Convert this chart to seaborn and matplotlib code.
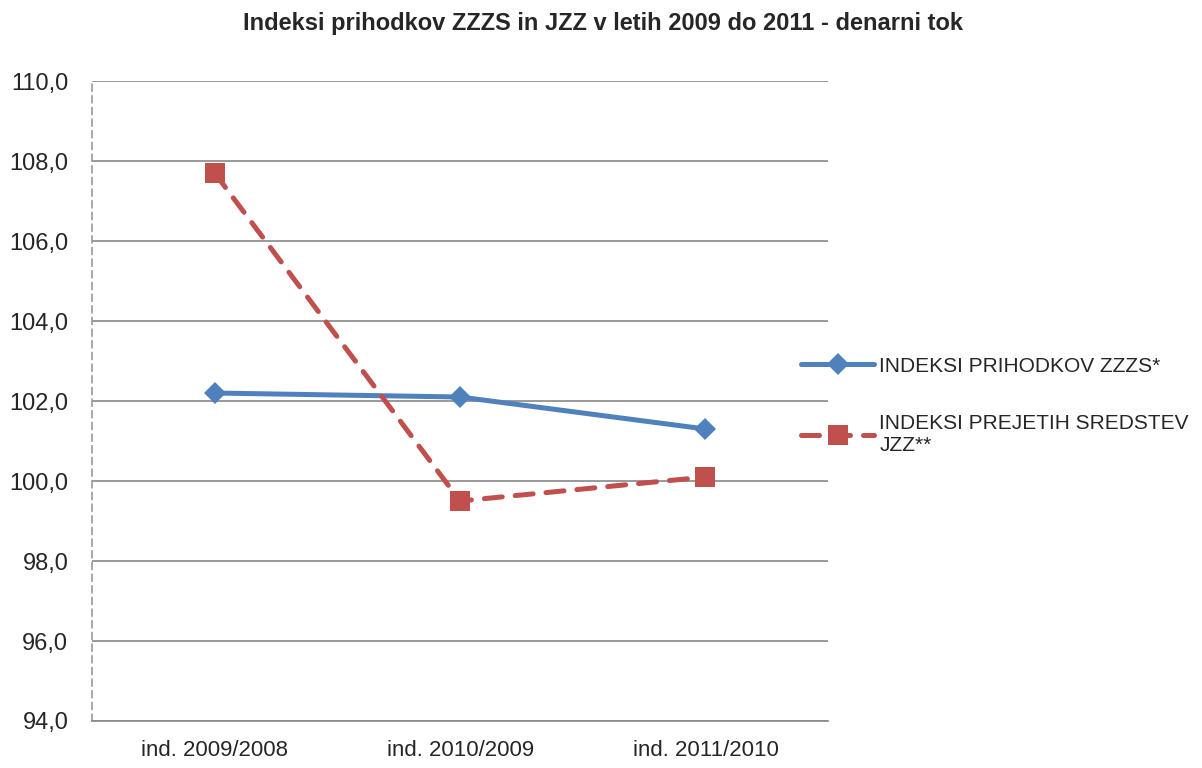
import numpy as np
import pandas as pd
import matplotlib.pyplot as plt
import seaborn as sns

# chart values
categories = ["ind. 2009/2008", "ind. 2010/2009", "ind. 2011/2010"]
zzzs_values = [102.2, 102.1, 101.3]
jzz_values = [107.7, 99.5, 100.1]
series_names = ["INDEKSI PRIHODKOV ZZZS*", "INDEKSI PREJETIH SREDSTEV\nJZZ**"]
y_ticks = [94, 96, 98, 100, 102, 104, 106, 108, 110]

sns.set_style("white")
plt.rcParams['font.family'] = ['Liberation Sans', 'DejaVu Sans']

df = pd.DataFrame({
    "kategorija": categories * 2,
    "indeks": zzzs_values + jzz_values,
    "serija": [series_names[0]] * 3 + [series_names[1]] * 3,
})
df["pos"] = [0, 1, 2] * 2

fig, ax = plt.subplots(figsize=(12.02, 7.68), dpi=100)
fig.subplots_adjust(left=0.0765, right=0.689, top=0.8945, bottom=0.0612)

blue = "#4F81BD"
red = "#C0504D"
lw = 3.6

sns.lineplot(data=df, x="pos", y="indeks", hue="serija", style="serija",
             palette=[blue, red], markers=["D", "s"],
             dashes=[(None, None), (3.6, 2.6)], linewidth=lw,
             markersize=11, markeredgewidth=0, ax=ax, legend=False)
ax.lines[0].set_markersize(11.5)
ax.lines[1].set_markersize(15)
ax.lines[1].set_dash_capstyle("round")
ax.lines[0].set_solid_capstyle("round")

ax.set_xlim(-0.5, 2.5)
ax.set_ylim(94, 110)
ax.set_yticks(y_ticks)
ax.set_yticklabels([f"{v:.1f}".replace(".", ",") for v in y_ticks])
ax.set_xticks([0, 1, 2])
ax.set_xticklabels(categories)
ax.set_xticks([-0.5, 0.5, 1.5, 2.5], minor=True)
ax.tick_params(axis="x", which="major", length=0, labelsize=16, pad=14)
ax.tick_params(axis="x", which="minor", length=6, color="#888888", width=1.2, direction="out")
ax.tick_params(axis="y", length=6, color="#888888", width=1.2, direction="out", labelsize=17, pad=11)
ax.set_xlabel("")
ax.set_ylabel("")

ax.grid(axis="y", color="#888888", linewidth=1.2)
ax.set_axisbelow(True)
for s in ["top", "right"]:
    ax.spines[s].set_visible(False)
ax.spines["bottom"].set_color("#888888")
ax.spines["bottom"].set_linewidth(1.2)
ax.spines["left"].set_color("#999999")
ax.spines["left"].set_linestyle((0, (4, 3)))
ax.spines["left"].set_linewidth(1.2)

h1 = plt.Line2D([], [], color=blue, linewidth=lw, marker="D", markersize=11.5,
                markeredgewidth=0, solid_capstyle="round")
h2 = plt.Line2D([], [], color=red, linewidth=lw, marker="s", markersize=15,
                markeredgewidth=0, dashes=(3.6, 2.6), dash_capstyle="round")
fig.legend([h1, h2], series_names, loc="upper left", bbox_to_anchor=(0.651, 0.56),
           frameon=False, fontsize=15, handlelength=3.5, handletextpad=0.25,
           labelspacing=1.85)

fig.suptitle("Indeksi prihodkov ZZZS in JZZ v letih 2009 do 2011 - denarni tok",
             fontsize=17, fontweight="bold", x=0.502, y=0.985)

fig.savefig("out.png", dpi=100)
